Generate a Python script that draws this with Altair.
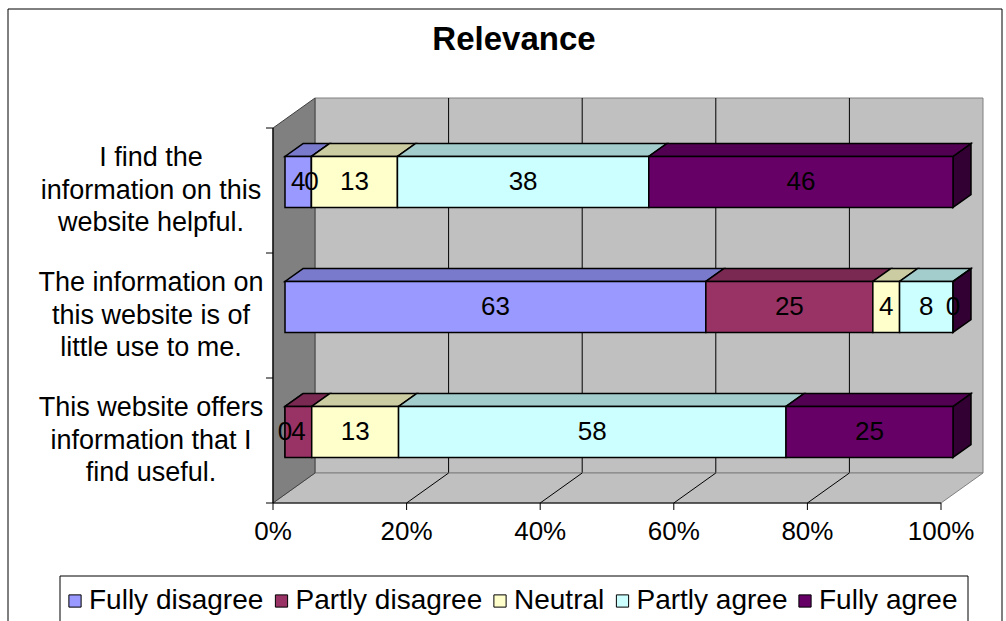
import altair as alt
import pandas as pd

# ---- chart content -------------------------------------------------------
TITLE = "Relevance"
STATEMENTS = [
    "I find the\ninformation on this\nwebsite helpful.",
    "The information on\nthis website is of\nlittle use to me.",
    "This website offers\ninformation that I\nfind useful.",
]
RESPONSES = ["Fully disagree", "Partly disagree", "Neutral", "Partly agree", "Fully agree"]
COUNTS = [
    [4, 0, 13, 38, 46],
    [63, 25, 4, 8, 0],
    [0, 4, 13, 58, 25],
]
X_TICKS = [0, 20, 40, 60, 80, 100]
X_TICK_LABELS = ["0%", "20%", "40%", "60%", "80%", "100%"]

# ---- styling ---------------------------------------------------------------
FRONT = ["#9999FF", "#993366", "#FFFFCC", "#CCFFFF", "#660066"]
TOP = ["#7A7ACC", "#7A2952", "#CCCCA3", "#A3CCCC", "#520052"]
SIDE = ["#4D4D80", "#4D1A33", "#808066", "#668080", "#330033"]
FONT = "Liberation Sans, Arial, sans-serif"
LINE_H = 32.5
TICK = 7

# ---- pseudo-3D geometry (plot area in px, depth of the box) ---------------
PLOT_W, PLOT_H = 710, 405
PX_PER_PCT = 6.68
PX_PER_ROW = 125.0
DX = 42 / PX_PER_PCT          # depth shift of the back wall, in % units
DY = 30 / PX_PER_ROW          # depth shift of the back wall, in row units
NEAR, FAR = 12 / 42, 30 / 42  # bar front / back as a fraction of the depth
HALF = 0.204                  # half bar height, in row units
N = len(STATEMENTS)

X_SCALE = alt.Scale(domain=[0, 100 + DX], nice=False, zero=False)
Y_SCALE = alt.Scale(domain=[0, N + DY], nice=False, zero=False)

# ---- build tables ------------------------------------------------------------
front_rows, top_rows, side_rows, cat_rows = [], [], [], []
for i, (stmt, counts) in enumerate(zip(STATEMENTS, COUNTS)):
    c = N - 1 - i + 0.5
    cat_rows.append({"label": stmt, "y": c})
    total = sum(counts)
    cum = 0
    for j, (resp, v) in enumerate(zip(RESPONSES, counts)):
        s = cum / total * 100
        cum += v
        e = cum / total * 100
        x0, x1 = s + DX * NEAR, e + DX * NEAR
        front_rows.append({
            "resp": resp, "value": v,
            "x0": x0, "x1": x1,
            "y0": c - HALF + DY * NEAR, "y1": c + HALF + DY * NEAR,
            "xm": (x0 + x1) / 2, "ym": c + DY * NEAR,
        })
        for f in (NEAR, FAR):
            top_rows.append({
                "key": f"{i}-{j}", "fill": TOP[j],
                "y": c + HALF + DY * f,
                "xa": s + DX * f, "xb": e + DX * f,
            })
    # right-hand end face of the row belongs to the last series
    for f in (NEAR, FAR):
        side_rows.append({
            "key": f"{i}", "fill": SIDE[len(RESPONSES) - 1],
            "x": 100 + DX * f,
            "ya": c - HALF + DY * f, "yb": c + HALF + DY * f,
        })

front = pd.DataFrame(front_rows)
tops = pd.DataFrame(top_rows)
sides = pd.DataFrame(side_rows)
cats = pd.DataFrame(cat_rows)

back_wall = pd.DataFrame({"x0": [DX], "x1": [100 + DX], "y0": [DY], "y1": [N + DY]})
floor = pd.DataFrame({"y": [0, DY], "xa": [0, DX], "xb": [100, 100 + DX]})
left_wall = pd.DataFrame({"x": [0, DX], "ya": [0, DY], "yb": [N, N + DY]})
grid = pd.DataFrame({"v": X_TICKS[1:-1]})
grid["xb"] = grid["v"] + DX
grid["y0"] = 0.0
grid["yd"] = DY
grid["yt"] = N + DY
axis_lines = pd.DataFrame({
    "x0": [0.0, 0.0], "x1": [100.0, 0.0], "y0": [0.0, 0.0], "y1": [0.0, float(N)],
})
x_ticks = pd.DataFrame({"t": X_TICKS, "label": X_TICK_LABELS, "zero": 0.0})
y_ticks = pd.DataFrame({"r": [float(k) for k in range(N + 1)], "zero": 0.0})
one = pd.DataFrame({"a": [0]})


def X(field, **kw):
    return alt.X(field, scale=X_SCALE, axis=None, **kw)


def Y(field, **kw):
    return alt.Y(field, scale=Y_SCALE, axis=None, **kw)


# ---- layers ------------------------------------------------------------------
frame = alt.Chart(one).mark_rect(fill="white", stroke="black", strokeWidth=1).encode(
    x=alt.value(8 - 273), x2=alt.value(1002 - 273),
    y=alt.value(9 - 98), y2=alt.value(650 - 98),
)

back = alt.Chart(back_wall).mark_rect(fill="#C0C0C0", stroke="#808080", strokeWidth=1).encode(
    x=X("x0:Q"), x2="x1:Q", y=Y("y0:Q"), y2="y1:Q"
)

back_grid = alt.Chart(grid).mark_rule(color="black", strokeWidth=1).encode(
    x=X("xb:Q"), y=Y("yd:Q"), y2="yt:Q",
)

floor_layer = alt.Chart(floor).mark_area(
    orient="horizontal", fill="#C0C0C0", stroke="#808080", strokeWidth=1
).encode(y=Y("y:Q"), x=X("xa:Q", stack=None), x2="xb:Q")

floor_grid = alt.Chart(grid).mark_rule(color="black", strokeWidth=1).encode(
    x=X("v:Q"), x2="xb:Q", y=Y("y0:Q"), y2="yd:Q",
)

left_layer = alt.Chart(left_wall).mark_area(
    orient="vertical", fill="#808080", stroke="#404040", strokeWidth=1
).encode(x=X("x:Q"), y=Y("ya:Q", stack=None), y2="yb:Q")

# front edges of the box: floor edge (percent axis) and wall edge (categories)
axis_rules = alt.Chart(axis_lines).mark_rule(color="black", strokeWidth=1.2).encode(
    x=X("x0:Q"), x2="x1:Q", y=Y("y0:Q"), y2="y1:Q",
)

x_tick_marks = alt.Chart(x_ticks).mark_rule(color="black", strokeWidth=1).encode(
    x=X("t:Q"), y=Y("zero:Q"), y2=alt.value(PLOT_H + TICK),
)
x_tick_labels = alt.Chart(x_ticks).mark_text(
    fontSize=26, font=FONT, color="black", align="center", baseline="middle", dy=29,
).encode(x=X("t:Q"), y=Y("zero:Q"), text="label:N")

# category ticks sit on the band boundaries
y_tick_marks = alt.Chart(y_ticks).mark_rule(color="black", strokeWidth=1).encode(
    y=Y("r:Q"), x=X("zero:Q"), x2=alt.value(-TICK),
)

side_faces = alt.Chart(sides).mark_area(
    orient="vertical", stroke="black", strokeWidth=1.5, strokeJoin="miter"
).encode(
    x=X("x:Q"), y=Y("ya:Q", stack=None), y2="yb:Q",
    detail="key:N", color=alt.Color("fill:N", scale=None),
)

top_faces = alt.Chart(tops).mark_area(
    orient="horizontal", stroke="black", strokeWidth=1.5, strokeJoin="miter"
).encode(
    y=Y("y:Q"), x=X("xa:Q", stack=None), x2="xb:Q",
    detail="key:N", color=alt.Color("fill:N", scale=None),
)

legend_box = alt.Chart(one).mark_rect(fill="white", stroke="black", strokeWidth=1).encode(
    x=alt.value(60 - 273), x2=alt.value(968 - 273),
    y=alt.value(576 - 98), y2=alt.value(650 - 98),
)

front_faces = alt.Chart(front).mark_rect(stroke="black", strokeWidth=1.5).encode(
    x=X("x0:Q"), x2="x1:Q", y=Y("y0:Q"), y2="y1:Q",
    color=alt.Color(
        "resp:N",
        scale=alt.Scale(domain=RESPONSES, range=FRONT),
        sort=RESPONSES,
        legend=alt.Legend(
            title=None, orient="none", legendX=61 - 273, legendY=587 - 98,
            direction="horizontal", columns=5, symbolType="square",
            symbolSize=150, symbolStrokeColor="black", symbolStrokeWidth=1,
            symbolOpacity=1, labelFontSize=28, labelFont=FONT,
            labelColor="black", labelOffset=0, columnPadding=3.5, padding=0,
            labelLimit=0, zindex=1,
        ),
    ),
)

value_labels = alt.Chart(front).mark_text(
    fontSize=26, font=FONT, color="black", align="center", baseline="middle"
).encode(x=X("xm:Q"), y=Y("ym:Q"), text="value:Q")

cat_labels = alt.Chart(cats).mark_text(
    fontSize=27, font=FONT, color="black", align="center", baseline="middle",
    lineBreak="\n", lineHeight=LINE_H, dy=-LINE_H,
).encode(x=alt.value(151 - 273), y=Y("y:Q"), text="label:N")

title = alt.Chart(one).mark_text(
    text=TITLE, fontSize=33, fontWeight="bold", font=FONT, color="black",
    align="center", baseline="middle",
).encode(x=alt.value(514 - 273), y=alt.value(40 - 98))

chart = alt.layer(
    frame, back, back_grid, floor_layer, floor_grid, left_layer, axis_rules,
    x_tick_marks, x_tick_labels, y_tick_marks,
    side_faces, top_faces, legend_box, front_faces, value_labels, cat_labels, title,
).properties(
    width=PLOT_W, height=PLOT_H,
    autosize=alt.AutoSizeParams(type="none"),
    padding={"left": 273, "top": 98, "right": 1006 - 273 - PLOT_W, "bottom": 621 - 98 - PLOT_H},
    background="white",
).configure_view(stroke=None)

chart.save("out.html", embed_options={"renderer": "svg", "actions": False})
